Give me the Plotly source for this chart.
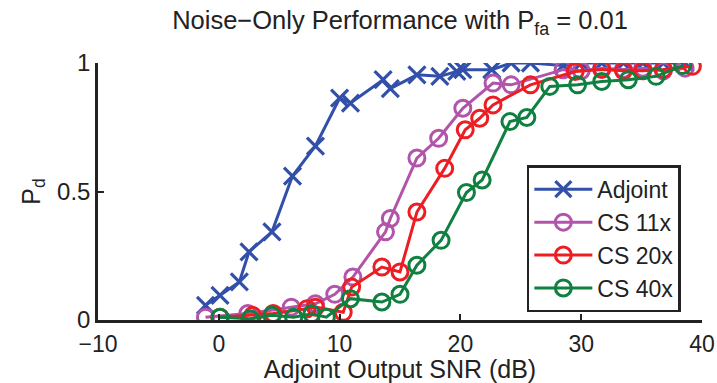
import plotly.graph_objects as go

# ---- data ----
adj_x = [-1.1, 0.1, 1.7, 2.5, 4.4, 6.1, 8.0, 10.0, 10.9, 13.6, 14.2, 16.4, 18.3, 19.7,
         20.2, 22.6, 24.2, 25.8, 28.5, 30.0, 31.7, 33.5, 35.1, 36.8, 38.6]
adj_y = [0.057, 0.096, 0.148, 0.265, 0.343, 0.56, 0.677, 0.863, 0.844, 0.935, 0.90, 0.954,
         0.948, 0.967, 0.974, 0.974, 1.0, 1.0, 0.99, 1.0, 1.0, 1.0, 1.0, 1.0, 1.0]

cs11_x = [-1.1, 2.4, 6.0, 8.0, 9.6, 11.1, 13.8, 14.2, 16.4, 18.2, 20.2, 22.7, 24.2,
          28.5, 30.0, 31.7, 33.5, 35.1, 36.8, 38.6]
cs11_y = [0.011, 0.025, 0.05, 0.063, 0.10, 0.167, 0.343, 0.395, 0.63, 0.707, 0.824, 0.922,
          0.915, 0.974, 0.97, 0.98, 0.975, 0.98, 0.97, 0.98]

cs20_x = [0.1, 2.8, 4.5, 7.3, 8.0, 10.3, 11.0, 13.5, 15.0, 16.4, 18.7, 20.4, 21.6, 22.7,
          25.8, 29.5, 31.7, 33.5, 35.1, 36.8, 39.2]
cs20_y = [0.011, 0.018, 0.025, 0.044, 0.05, 0.03, 0.128, 0.206, 0.187, 0.42, 0.59, 0.74,
          0.785, 0.837, 0.915, 0.967, 0.975, 0.97, 0.97, 0.975, 0.987]

cs40_x = [0.1, 2.6, 4.4, 6.2, 7.7, 8.9, 10.9, 13.5, 15.0, 16.4, 18.4, 20.5, 21.8, 24.1,
          25.5, 27.4, 29.7, 31.7, 33.9, 36.2, 38.4]
cs40_y = [0.011, 0.005, 0.018, 0.011, 0.024, 0.011, 0.083, 0.07, 0.10, 0.213, 0.31, 0.496,
          0.545, 0.772, 0.788, 0.909, 0.915, 0.928, 0.935, 0.948, 0.99]

x_ticks = [-10, 0, 10, 20, 30, 40]
y_ticks = [0, 0.5, 1]
y_tick_text = ["0", "0.5", "1"]

FONT = "Liberation Sans, Arial, sans-serif"
TXT = "#222"

fig = go.Figure()

fig.add_trace(go.Scatter(
    x=adj_x, y=adj_y, name="Adjoint", mode="lines+markers",
    line=dict(color="rgb(50,80,170)", width=3),
    marker=dict(symbol="x-thin-open", size=17, line=dict(color="rgb(50,80,170)", width=3.2)),
))
fig.add_trace(go.Scatter(
    x=cs11_x, y=cs11_y, name="CS 11x", mode="lines+markers",
    line=dict(color="rgb(178,84,170)", width=3),
    marker=dict(symbol="circle-open", size=16, line=dict(color="rgb(178,84,170)", width=3)),
))
fig.add_trace(go.Scatter(
    x=cs20_x, y=cs20_y, name="CS 20x", mode="lines+markers",
    line=dict(color="rgb(236,30,36)", width=3),
    marker=dict(symbol="circle-open", size=16, line=dict(color="rgb(236,30,36)", width=3)),
))
fig.add_trace(go.Scatter(
    x=cs40_x, y=cs40_y, name="CS 40x", mode="lines+markers",
    line=dict(color="rgb(16,128,64)", width=3),
    marker=dict(symbol="circle-open", size=16, line=dict(color="rgb(16,128,64)", width=3)),
))

fig.update_layout(
    width=717, height=383,
    margin=dict(l=98, r=15, t=63, b=63),
    paper_bgcolor="white", plot_bgcolor="white",
    font=dict(family=FONT, size=24, color=TXT),
    title=dict(text="Noise\u2212Only Performance with P<sub>fa</sub> = 0.01",
               x=(98 + 702) / 2 / 717, xanchor="center", y=0.947, yanchor="middle",
               font=dict(family=FONT, size=25.5, color=TXT)),
    showlegend=True,
    legend=dict(x=0.71, y=0.03, xanchor="left", yanchor="bottom",
                bgcolor="white", bordercolor=TXT, borderwidth=2.5,
                font=dict(family=FONT, size=23, color=TXT),
                itemwidth=58, tracegroupgap=0),
)

fig.update_xaxes(
    range=[-10, 40], tickvals=x_ticks, ticks="inside", ticklen=6, tickwidth=2,
    tickcolor=TXT, showline=True, linecolor=TXT, linewidth=2.5,
    showgrid=False, zeroline=False, mirror=False, automargin=False,
    title=dict(text="Adjoint Output SNR (dB)", font=dict(family=FONT, size=25), standoff=0),
    tickfont=dict(family=FONT, size=23), ticklabelstandoff=2,
)
fig.update_yaxes(
    range=[0, 1], tickvals=y_ticks, ticktext=y_tick_text, ticks="inside", ticklen=6,
    tickwidth=2, tickcolor=TXT, showline=True, linecolor=TXT, linewidth=2.5,
    showgrid=False, zeroline=False, mirror=False, automargin=False,
    title=dict(text="P<sub>d</sub>", font=dict(family=FONT, size=25), standoff=10),
    tickfont=dict(family=FONT, size=24),
)

fig.write_html("out.html")
